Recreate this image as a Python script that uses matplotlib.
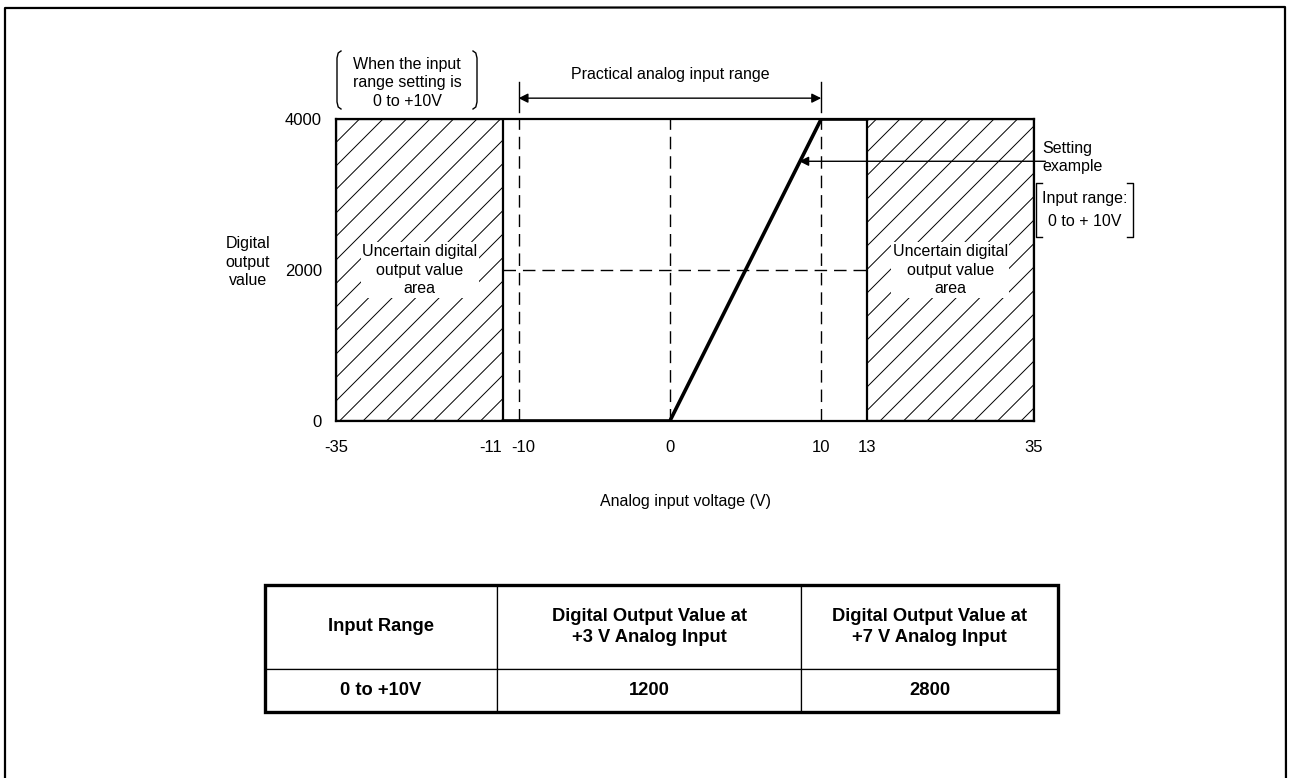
import numpy as np
import matplotlib.pyplot as plt
import matplotlib.transforms as mtransforms
from matplotlib.lines import Line2D
from matplotlib.patches import Rectangle

plt.rcParams['font.family'] = ['Liberation Sans', 'DejaVu Sans']

# data
x_ticks = [-35, -11, -10, 0, 10, 13, 35]
y_ticks = [0, 2000, 4000]
curve_x = [-11, 0, 10, 13]
curve_y = [0, 0, 4000, 4000]
practical_range = [-10, 10]
uncertain_left = [-35, -11]
uncertain_right = [13, 35]
mid_value = 2000
table_header = ['Input Range', 'Digital Output Value at\n+3 V Analog Input',
                'Digital Output Value at\n+7 V Analog Input']
table_row = ['0 to +10V', '1200', '2800']

W, H = 1289, 778


def fx(px):
    return px / W


def fy(py):
    return 1 - py / H


# piecewise scale: outer areas are squeezed
XB = np.array([-35.0, -11.0, 13.0, 35.0])
PB = np.array([0.0, 167.4, 530.6, 698.0])


def fwd(x):
    x = np.asarray(x, dtype=float)
    out = np.interp(x, XB, PB)
    out = np.where(x < XB[0], PB[0] + (x - XB[0]) * (PB[1] - PB[0]) / (XB[1] - XB[0]), out)
    out = np.where(x > XB[-1], PB[-1] + (x - XB[-1]) * (PB[-1] - PB[-2]) / (XB[-1] - XB[-2]), out)
    return out


def inv(p):
    p = np.asarray(p, dtype=float)
    out = np.interp(p, PB, XB)
    out = np.where(p < PB[0], XB[0] + (p - PB[0]) * (XB[1] - XB[0]) / (PB[1] - PB[0]), out)
    out = np.where(p > PB[-1], XB[-1] + (p - PB[-1]) * (XB[-1] - XB[-2]) / (PB[-1] - PB[-2]), out)
    return out


fig = plt.figure(figsize=(W / 100, H / 100), dpi=100)
ax = fig.add_axes([fx(336), fy(421), fx(698), 302 / H])
ax.set_xscale('function', functions=(fwd, inv))
ax.set_xlim(-35, 35)
ax.set_ylim(0, 4000)

for s in ax.spines.values():
    s.set_linewidth(1.6)

ax.set_xticks(x_ticks)
ax.set_xticklabels([str(t) for t in x_ticks])
ax.set_yticks(y_ticks)
ax.tick_params(length=0, labelsize=12, pad=14)
ax.tick_params(axis='y', pad=10)
ax.set_xlabel('Analog input voltage (V)', fontsize=11.5, labelpad=28)

# pull the -11 / -10 labels apart like the original
for t, lab in zip(x_ticks, ax.get_xticklabels()):
    if t == -11:
        lab.set_transform(lab.get_transform() + mtransforms.ScaledTranslation(-13 / 100, 0, fig.dpi_scale_trans))
    elif t == -10:
        lab.set_transform(lab.get_transform() + mtransforms.ScaledTranslation(5 / 100, 0, fig.dpi_scale_trans))

# uncertain areas with hand drawn hatch
aw, ah = 698.0, 302.0
for lo, hi in [uncertain_left, uncertain_right]:
    patch = ax.axvspan(lo, hi, facecolor='white', edgecolor='black', linewidth=1.6, zorder=1)
    for c in np.arange(-ah, aw + ah, 23.5):
        ln = Line2D([c / aw, (c + ah) / aw], [0, 1], transform=ax.transAxes,
                    color='black', linewidth=0.7, zorder=1.5)
        ax.add_line(ln)
        ln.set_clip_path(patch)
    ax.text((lo + hi) / 2, mid_value, 'Uncertain digital\noutput value\narea',
            ha='center', va='center', fontsize=11.5, linespacing=1.3, zorder=3,
            bbox=dict(facecolor='white', edgecolor='none', pad=1))

# dashed guide lines
for v in practical_range:
    ax.axvline(v, color='black', linewidth=1.0, dashes=(9, 5), zorder=2)
ax.axvline(0, color='black', linewidth=1.0, dashes=(9, 5), zorder=2)
ax.plot([uncertain_left[1], uncertain_right[0]], [mid_value, mid_value],
        color='black', linewidth=1.0, dashes=(9, 5), zorder=2)

# conversion characteristic
ax.plot(curve_x, curve_y, color='black', linewidth=2.6, solid_joinstyle='miter', zorder=4)

# practical range marker
for v in practical_range:
    ax.plot([v, v], [1.023, 1.123], transform=ax.get_xaxis_transform(),
            color='black', linewidth=1.0, clip_on=False)
ax.annotate('', xy=(practical_range[0], 1.069), xytext=(practical_range[1], 1.069),
            xycoords=('data', 'axes fraction'), textcoords=('data', 'axes fraction'),
            arrowprops=dict(arrowstyle='<|-|>', color='black', lw=1.0,
                            shrinkA=0, shrinkB=0, mutation_scale=14))
ax.text(0, 1.148, 'Practical analog input range', transform=ax.get_xaxis_transform(),
        ha='center', va='center', fontsize=11.5)

# setting example arrow
ax.annotate('', xy=(8.55, 3440), xytext=(36.5, 3440), annotation_clip=False,
            arrowprops=dict(arrowstyle='-|>', color='black', lw=1.0,
                            shrinkA=0, shrinkB=0, mutation_scale=14))
fig.text(fx(1042), fy(158), 'Setting\nexample', ha='left', va='center',
         fontsize=11.5, linespacing=1.25)
fig.text(fx(1085), fy(210), 'Input range:\n0 to + 10V', ha='center', va='center',
         fontsize=11.5, linespacing=1.6)

# y label
fig.text(fx(248), fy(262), 'Digital\noutput\nvalue', ha='center', va='center',
         fontsize=11.5, linespacing=1.3)

# top-left note with round brackets
fig.text(fx(407), fy(83), 'When the input\nrange setting is\n0 to +10V', ha='center',
         va='center', fontsize=11.5, linespacing=1.3)


def round_bracket(x, top, bot, d):
    xs = [x + 4 * d, x + 1.2 * d, x, x, x + 1.2 * d, x + 4 * d]
    ys = [top, top + 2, top + 7, bot - 7, bot - 2, bot]
    fig.add_artist(Line2D([fx(v) for v in xs], [fy(v) for v in ys], color='black', lw=1.0))


def square_bracket(x, top, bot, d):
    xs = [x + 6 * d, x, x, x + 6 * d]
    ys = [top, top, bot, bot]
    fig.add_artist(Line2D([fx(v) for v in xs], [fy(v) for v in ys], color='black', lw=1.0))


round_bracket(337, 51, 109, 1)
round_bracket(477, 51, 109, -1)
square_bracket(1036, 183, 237, 1)
square_bracket(1133, 183, 237, -1)

# outer frame
fig.add_artist(Line2D([fx(5), fx(5), fx(1285), fx(1286)], [fy(800), fy(8), fy(7), fy(800)],
                      color='black', lw=1.6))

# table
tl, tr, tt, tb = 265, 1058, 585, 712
tax = fig.add_axes([fx(tl), fy(tb), (tr - tl) / W, (tb - tt) / H])
tax.axis('off')
col_w = [232 / 793, 304 / 793, 257 / 793]
tbl = tax.table(cellText=[table_row], colLabels=table_header, cellLoc='center',
                colWidths=col_w, bbox=[0, 0, 1, 1])
tbl.auto_set_font_size(False)
for (r, c), cell in tbl.get_celld().items():
    cell.set_linewidth(0.9)
    cell.get_text().set_fontsize(13.2)
    cell.get_text().set_fontweight('bold')
    cell.get_text().set_linespacing(1.3)
    if r == 0:
        cell.set_height(0.66)
    else:
        cell.set_height(0.34)
tax.add_patch(Rectangle((0, 0), 1, 1, transform=tax.transAxes, fill=False,
                        linewidth=2.4, edgecolor='black', clip_on=False))

fig.savefig('out.png', dpi=100)
